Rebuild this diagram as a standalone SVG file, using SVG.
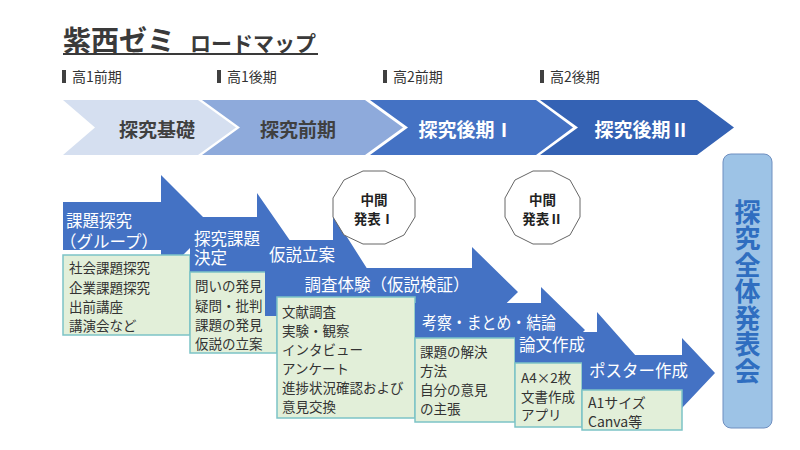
<svg xmlns="http://www.w3.org/2000/svg" width="800" height="450" viewBox="0 0 800 450">
<defs>
<style>
text{font-family:"Noto Sans CJK JP","Noto Sans",sans-serif;}
.title{font-size:28px;font-weight:bold;fill:#3a3a3a;}
.sub{font-size:21px;font-weight:bold;fill:#3a3a3a;}
.per{font-size:14px;fill:#333;}
.chev{font-size:19px;font-weight:bold;text-anchor:middle;}
.arrow{fill:#4472c4;}
.hd{font-size:16.5px;fill:#fff;}
.box{fill:#e2efd9;stroke:#7cc3c6;stroke-width:1.5;}
.bt{font-size:13.5px;fill:#333;}
.oct{fill:#fff;stroke:#666;stroke-width:1;}
.ot{font-size:13.5px;font-weight:bold;fill:#222;text-anchor:middle;}
</style>
</defs>
<rect width="800" height="450" fill="#fff"/>
<g id="title">
<text x="63" y="51" class="title">紫西ゼミ</text>
<text x="190" y="51" class="sub">ロードマップ</text>
<rect x="63" y="53" width="255" height="2" fill="#3a3a3a"/>
</g>
<g id="periods">
<rect x="62" y="70" width="4" height="13" fill="#404040"/><text x="72" y="82" class="per">高1前期</text>
<rect x="217" y="70" width="4" height="13" fill="#404040"/><text x="227" y="82" class="per">高1後期</text>
<rect x="383" y="70" width="4" height="13" fill="#404040"/><text x="393" y="82" class="per">高2前期</text>
<rect x="540" y="70" width="4" height="13" fill="#404040"/><text x="550" y="82" class="per">高2後期</text>
</g>
<g id="chevrons">
<g id="c1"><polygon points="63,100 198,100 236,127.5 198,155 63,155 95,127.5" fill="#d5dff0"/><text x="157" y="137" class="chev" fill="#404040">探究基礎</text></g>
<g id="c2"><polygon points="202,100 365,100 403,127.5 365,155 202,155 240,127.5" fill="#8eaadb"/><text x="298" y="137" class="chev" fill="#404040">探究前期</text></g>
<g id="c3"><polygon points="370,100 536,100 573,127.5 536,155 370,155 408,127.5" fill="#4472c4"/><text x="466" y="137" class="chev" fill="#fff">探究後期Ⅰ</text></g>
<g id="c4"><polygon points="540,100 697,100 734,127.5 697,155 540,155 578,127.5" fill="#3462b4"/><text x="642" y="137" class="chev" fill="#fff">探究後期Ⅱ</text></g>
</g>
<g id="a1">
<path class="arrow" d="M63,202 H161 V175 L212,226 L161,277 V250 H63 Z"/>
<text x="66" y="227" class="hd">課題探究</text>
<text x="60" y="248" class="hd">（グループ）</text>
<rect class="box" x="63" y="255" width="127" height="80"/>
<text class="bt" x="69" y="273">社会課題探究</text>
<text class="bt" x="69" y="293">企業課題探究</text>
<text class="bt" x="69" y="312">出前講座</text>
<text class="bt" x="69" y="331">講演会など</text>
</g>
<g id="a2">
<path class="arrow" d="M190,217 H257 V193 L300,255 L257,317 V293 H190 Z"/>
<text x="194" y="245" class="hd">探究課題</text>
<text x="194" y="264" class="hd">決定</text>
<rect class="box" x="190" y="272" width="87" height="81"/>
<text class="bt" x="195" y="291">問いの発見</text>
<text class="bt" x="195" y="311">疑問・批判</text>
<text class="bt" x="195" y="330">課題の発見</text>
<text class="bt" x="195" y="349">仮説の立案</text>
</g>
<g id="a3">
<path class="arrow" d="M265,240 H333 V215 L373,278 L333,341 V316 H265 Z"/>
<text x="269" y="261" class="hd">仮説立案</text>
</g>
<g id="a4">
<path class="arrow" d="M277,268 H472 V247 L518,292 L472,337 V316 H277 Z"/>
<text x="387" y="291" class="hd" text-anchor="middle">調査体験（仮説検証）</text>
<rect class="box" x="277" y="297" width="138" height="121"/>
<text class="bt" x="282" y="317">文献調査</text>
<text class="bt" x="282" y="336">実験・観察</text>
<text class="bt" x="282" y="355">インタビュー</text>
<text class="bt" x="282" y="374">アンケート</text>
<text class="bt" x="282" y="393">進捗状況確認および</text>
<text class="bt" x="282" y="412">意見交換</text>
</g>
<g id="a5">
<path class="arrow" d="M415,303 H541 V287 L585,330 L541,373 V357 H415 Z"/>
<text x="422" y="329" class="hd" textLength="134" lengthAdjust="spacingAndGlyphs">考察・まとめ・結論</text>
<rect class="box" x="415" y="338" width="100" height="84"/>
<text class="bt" x="420" y="357">課題の解決</text>
<text class="bt" x="420" y="376">方法</text>
<text class="bt" x="420" y="395">自分の意見</text>
<text class="bt" x="420" y="414">の主張</text>
</g>
<g id="a6">
<path class="arrow" d="M515,332 H597 V312 L636,356 L597,400 V380 H515 Z"/>
<text x="519" y="351" class="hd">論文作成</text>
<rect class="box" x="515" y="363" width="67" height="64"/>
<text class="bt" x="521" y="383">A4×2枚</text>
<text class="bt" x="521" y="402">文書作成</text>
<text class="bt" x="521" y="420">アプリ</text>
</g>
<g id="a7">
<path class="arrow" d="M582,355 H682 V338 L715,373 L682,408 V391 H582 Z"/>
<text x="589" y="377" class="hd">ポスター作成</text>
<rect class="box" x="582" y="390" width="100" height="40"/>
<text class="bt" x="588" y="408" style="font-size:14px">A1サイズ</text>
<text class="bt" x="588" y="427" style="font-size:14px">Canva等</text>
</g>
<g id="final">
<rect x="723" y="154" width="49" height="274" rx="8" fill="#9dc3e6" stroke="#6f8fc0" stroke-width="1"/>
<text x="747.5" y="199" style="font-size:26px;font-weight:bold;fill:#2f6ec0;writing-mode:vertical-rl;letter-spacing:0.5px">探究全体発表会</text>
</g>
<g id="m1">
<polygon class="oct" points="415,198 415,217 404,235 385,244 363,244 344,235 333,217 333,198 344,180 363,171 385,171 404,180"/>
<text class="ot" x="374" y="205">中間</text>
<text class="ot" x="374" y="224">発表Ⅰ</text>
</g>
<g id="m2">
<polygon class="oct" points="580,198 580,217 570,235 552,244 533,244 515,235 505,217 505,198 515,180 533,171 552,171 570,180"/>
<text class="ot" x="542.5" y="205">中間</text>
<text class="ot" x="542.5" y="224">発表Ⅱ</text>
</g>
</svg>
